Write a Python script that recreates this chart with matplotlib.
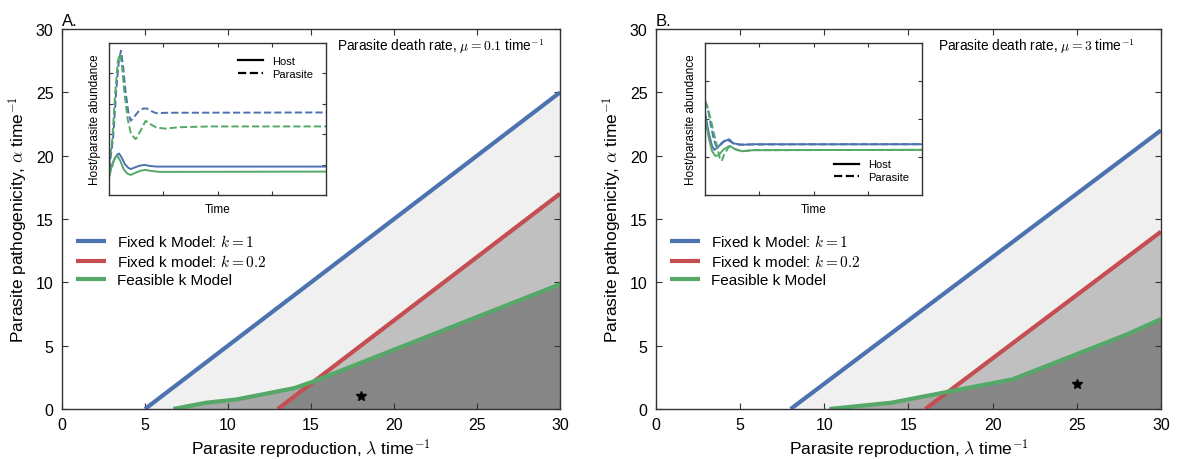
import numpy as np
import matplotlib
matplotlib.use('Agg')
import matplotlib.pyplot as plt

plt.rcParams['font.family'] = ['Liberation Sans', 'DejaVu Sans']
plt.rcParams['mathtext.fontset'] = 'cm'

blue = '#4C72B0'
red = '#C44E52'
green = '#55A868'

# panel A (mu = 0.1)
a_blue_lam = [5, 30]
a_blue_alpha = [0, 25]
a_red_lam = [13, 30]
a_red_alpha = [0, 17]
a_green_lam = [6.7, 8.7, 10.5, 14.0, 15.2, 30]
a_green_alpha = [0, 0.5, 0.75, 1.65, 2.2, 9.85]
a_star = (18, 1)

# panel B (mu = 3)
b_blue_lam = [8, 30]
b_blue_alpha = [0, 22]
b_red_lam = [16, 30]
b_red_alpha = [0, 14]
b_green_lam = [10.3, 14.0, 21.2, 28.0, 30]
b_green_alpha = [0, 0.5, 2.35, 5.9, 7.1]
b_star = (25, 2)

# inset time series A
a_t_par_blue = [0, 1.85, 3.38, 4.62, 5.54, 6.46, 7.69, 8.92, 10.0, 11.4, 13.4, 15.7, 17.5, 19.5, 21.8, 26.5, 100]
a_par_blue = [1.69, 3.67, 6.97, 8.95, 9.49, 8.51, 6.75, 5.43, 4.88, 5.10, 5.47, 5.69, 5.69, 5.52, 5.38, 5.41, 5.43]
a_t_par_green = [0, 1.54, 2.77, 4.0, 4.92, 5.85, 7.08, 8.62, 10.15, 12.3, 14.5, 16.9, 19.1, 21.8, 25.7, 32.6, 46.5, 100]
a_par_green = [1.91, 3.67, 6.53, 8.73, 9.27, 8.73, 6.75, 4.99, 4.0, 3.67, 4.22, 4.88, 4.66, 4.44, 4.37, 4.46, 4.51, 4.51]
a_t_host_blue = [0, 1.23, 2.46, 3.69, 4.62, 5.85, 7.38, 8.92, 10.15, 12.0, 14.15, 16.5, 18.8, 21.8, 100]
a_host_blue = [1.25, 1.91, 2.35, 2.64, 2.73, 2.46, 2.02, 1.78, 1.71, 1.82, 1.93, 1.98, 1.91, 1.87, 1.87]
a_t_host_green = [0, 1.08, 2.15, 3.08, 3.85, 5.23, 6.77, 8.46, 10.0, 12.3, 14.6, 16.9, 19.5, 23.4, 100]
a_host_green = [1.14, 1.80, 2.24, 2.51, 2.57, 2.24, 1.69, 1.41, 1.32, 1.47, 1.60, 1.65, 1.58, 1.52, 1.54]

# inset time series B
b_t_host_blue = [0, 1.69, 3.23, 4.3, 5.84, 7.83, 10.4, 12.9, 16.3, 22.4, 100]
b_host_blue = [5.43, 4.11, 3.23, 2.97, 3.12, 3.45, 3.63, 3.41, 3.30, 3.34, 3.34]
b_t_par_blue = [0, 1.23, 2.76, 4.0, 5.22, 6.76, 8.9, 11.1, 13.2, 16.3, 100]
b_par_blue = [6.20, 5.76, 4.55, 3.67, 3.19, 3.23, 3.56, 3.67, 3.38, 3.32, 3.34]
b_t_host_green = [0, 1.69, 3.23, 4.76, 6.3, 8.6, 11.4, 14.0, 17.0, 22.4, 100]
b_host_green = [5.10, 3.78, 2.90, 2.57, 2.62, 3.01, 3.23, 3.01, 2.88, 2.95, 2.97]
b_t_par_green = [0, 0.92, 2.46, 4.0, 5.53, 6.76, 7.68, 8.9, 11.1, 14.0, 17.0, 22.4, 100]
b_par_green = [6.13, 5.87, 5.10, 4.11, 3.23, 2.46, 2.24, 2.68, 3.19, 3.01, 2.88, 2.95, 2.97]


def style_ticks(ax):
    ax.tick_params(direction='in', top=True, right=True, length=4, width=0.8, color='#333333')
    for s in ax.spines.values():
        s.set_color('#333333')
        s.set_linewidth(1.0)


def main_panel(ax, letter, mu_txt, txt_x, bl, ba, rl, ra, gl, ga, star):
    lam = np.linspace(0, 30, 1201)
    yb = np.interp(lam, bl, ba, left=0)
    yr = np.interp(lam, rl, ra, left=0)
    yg = np.interp(lam, gl, ga, left=0)
    ax.fill_between(lam, 0, yb, color='#f0f0f0', lw=0)
    ax.fill_between(lam, 0, yr, color='#c0c0c0', lw=0)
    ax.fill_between(lam, 0, yg, color='#a8a8a8', lw=0)
    ax.fill_between(lam, 0, np.minimum(yr, yg), color='#868686', lw=0)
    ax.plot(bl, ba, color=blue, lw=3, label='Fixed k Model: $k=1$', solid_capstyle='butt')
    ax.plot(rl, ra, color=red, lw=3, label='Fixed k model: $k=0.2$', solid_capstyle='butt')
    ax.plot(gl, ga, color=green, lw=3, label='Feasible k Model', solid_capstyle='butt')
    ax.plot(star[0], star[1], marker='*', color='black', ms=7.5, ls='none')
    ax.set_xlim(0, 30)
    ax.set_ylim(0, 30)
    ax.set_xticks([0, 5, 10, 15, 20, 25, 30])
    ax.set_yticks([0, 5, 10, 15, 20, 25, 30])
    ax.tick_params(labelsize=11.5, pad=6)
    style_ticks(ax)
    ax.set_xlabel(r'Parasite reproduction, $\lambda$ time$^{-1}$', fontsize=12.5, labelpad=3)
    ax.set_ylabel(r'Parasite pathogenicity, $\alpha$ time$^{-1}$', fontsize=12.5, labelpad=4)
    ax.set_title(letter, loc='left', fontsize=12, pad=3)
    ax.legend(loc='center left', bbox_to_anchor=(0.0, 0.392), frameon=False,
              fontsize=11, handlelength=2.0, handletextpad=0.7, labelspacing=0.25)
    ax.text(txt_x, 0.955, mu_txt, transform=ax.transAxes,
            fontsize=9.8, va='center', ha='left')


def inset(ax, series, legend_loc, yt):
    for t, v, c, ls in series:
        ax.plot(t, v, color=c, ls=ls, lw=1.4)
    ax.plot([], [], color='black', lw=1.6, label='Host')
    ax.plot([], [], color='black', lw=1.6, ls='--', label='Parasite')
    ax.set_xlim(0, 100)
    ax.set_ylim(0, 10)
    ax.set_xticks([25, 50, 75])
    ax.set_yticks(yt)
    ax.set_xticklabels([])
    ax.set_yticklabels([])
    style_ticks(ax)
    ax.tick_params(length=3)
    ax.set_xlabel('Time', fontsize=8.5, labelpad=2)
    ax.set_ylabel('Host/parasite abundance', fontsize=8.5, labelpad=2)
    ax.legend(loc=legend_loc, frameon=False, fontsize=8, handlelength=2.2,
              labelspacing=0.2, borderaxespad=0.8)


fig = plt.figure(figsize=(11.79, 4.6), dpi=100)
axA = fig.add_axes([0.0526, 0.1087, 0.4224, 0.826])
axB = fig.add_axes([0.5564, 0.1087, 0.4283, 0.826])

main_panel(axA, 'A.', r'Parasite death rate, $\mu=0.1$ time$^{-1}$', 0.552,
           a_blue_lam, a_blue_alpha, a_red_lam, a_red_alpha, a_green_lam, a_green_alpha, a_star)
main_panel(axB, 'B.', r'Parasite death rate, $\mu=3$ time$^{-1}$', 0.558,
           b_blue_lam, b_blue_alpha, b_red_lam, b_red_alpha, b_green_lam, b_green_alpha, b_star)

insA = fig.add_axes([109 / 1179, 1 - 196 / 460, 217 / 1179, 152 / 460])
inset(insA, [
    (a_t_host_blue, a_host_blue, blue, '-'),
    (a_t_host_green, a_host_green, green, '-'),
    (a_t_par_blue, a_par_blue, blue, '--'),
    (a_t_par_green, a_par_green, green, '--'),
], 'upper right', [2, 4, 6, 8])

insB = fig.add_axes([705 / 1179, 1 - 196 / 460, 217 / 1179, 152 / 460])
inset(insB, [
    (b_t_host_blue, b_host_blue, blue, '-'),
    (b_t_host_green, b_host_green, green, '-'),
    (b_t_par_blue, b_par_blue, blue, '--'),
    (b_t_par_green, b_par_green, green, '--'),
], 'lower right', [2.5, 5, 7.5])

fig.savefig('out.png', dpi=100)
